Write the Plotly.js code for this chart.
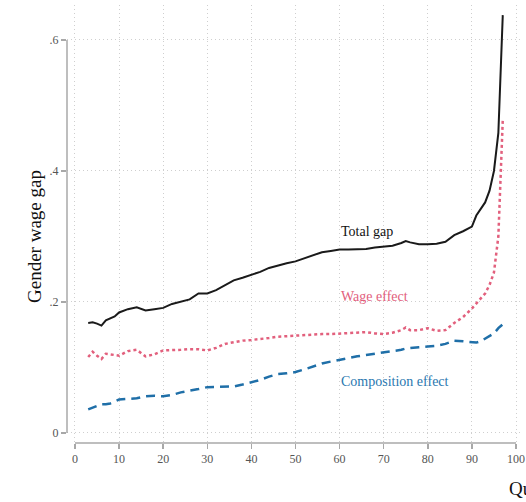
<!DOCTYPE html>
<html>
<head>
<meta charset="utf-8">
<script src="https://cdn.plot.ly/plotly-3.0.1.min.js"></script>
<style>html,body{margin:0;padding:0;background:#fff;}#chart{width:526px;height:502px;}</style>
</head>
<body>
<div id="chart"></div>
<script>
const quantiles = [3,4,5,6,7,8,9,10,12,14,16,18,20,22,24,26,28,30,32,34,36,38,40,42,44,46,48,50,52,54,56,58,60,62,64,66,68,70,72,74,75,76,78,80,82,84,86,88,90,91,92,93,94,95,96,97];
const totalGap = [0.168,0.169,0.167,0.164,0.172,0.175,0.178,0.184,0.189,0.192,0.187,0.189,0.191,0.197,0.201,0.204,0.213,0.213,0.218,0.226,0.233,0.237,0.241,0.246,0.252,0.256,0.259,0.262,0.267,0.272,0.276,0.278,0.280,0.280,0.280,0.281,0.283,0.285,0.286,0.290,0.293,0.291,0.288,0.288,0.289,0.292,0.302,0.308,0.315,0.332,0.343,0.352,0.370,0.400,0.458,0.638];
const wageEffect = [0.116,0.124,0.118,0.113,0.121,0.120,0.118,0.118,0.125,0.127,0.117,0.120,0.126,0.126,0.127,0.128,0.128,0.126,0.130,0.136,0.139,0.141,0.142,0.143,0.145,0.147,0.148,0.148,0.149,0.151,0.151,0.151,0.152,0.153,0.154,0.154,0.152,0.151,0.153,0.157,0.161,0.157,0.157,0.160,0.156,0.157,0.168,0.177,0.190,0.198,0.205,0.213,0.226,0.245,0.300,0.478];
const compositionEffect = [0.036,0.039,0.042,0.044,0.044,0.045,0.048,0.051,0.052,0.053,0.056,0.057,0.056,0.058,0.062,0.064,0.067,0.070,0.070,0.070,0.071,0.074,0.077,0.081,0.086,0.090,0.091,0.093,0.097,0.102,0.106,0.109,0.112,0.115,0.117,0.119,0.121,0.123,0.124,0.127,0.129,0.130,0.131,0.132,0.133,0.136,0.141,0.140,0.138,0.138,0.140,0.144,0.149,0.152,0.160,0.166];
const xTicks = [0,10,20,30,40,50,60,70,80,90,100];
const yTicks = [0,0.2,0.4,0.6];
const yTickLabels = ["0",".2",".4",".6"];
const seriesLabels = ["Total gap","Wage effect","Composition effect"];
const labelPos = {x:[66.2,68,72.6], y:[0.307,0.208,0.078]};

const serif = "'Liberation Serif', serif";
const colors = ["#1a1a1a","#e2607d","#1f6fa8"];

const traces = [
  {x: quantiles, y: totalGap, mode:'lines', line:{color:colors[0], width:2}, name: seriesLabels[0]},
  {x: quantiles, y: wageEffect, mode:'lines', line:{color:colors[1], width:2.5, dash:'dot'}, name: seriesLabels[1]},
  {x: quantiles, y: compositionEffect, mode:'lines', line:{color:colors[2], width:2.5, dash:'9px,6px'}, name: seriesLabels[2]}
];

const annotations = seriesLabels.map((t,i)=>({
  text:t, x:labelPos.x[i], y:labelPos.y[i], xref:'x', yref:'y', showarrow:false,
  font:{family:serif, size:14, color: i===2 ? '#2a78b0' : (i===1 ? '#e2607d' : '#111')}
}));
annotations.push({text:'Gender wage gap', xref:'paper', yref:'y', x:0, y:0.3, xshift:-45, textangle:-90,
  showarrow:false, font:{family:serif, size:19, color:'#111'}});
annotations.push({text:'Quantile', xref:'paper', yref:'paper', x:0.967, y:-0.103, xanchor:'left', yanchor:'middle',
  showarrow:false, font:{family:serif, size:19, color:'#111'}});

const shapes = [
  {type:'line', xref:'x', yref:'paper', x0:xTicks[0], x1:xTicks[xTicks.length-1], y0:0, y1:0, line:{color:'#a8a8a8', width:1.5}},
  {type:'line', xref:'paper', yref:'y', x0:0, x1:0, y0:yTicks[0], y1:yTicks[yTicks.length-1], line:{color:'#a8a8a8', width:1.5}}
];

const layout = {
  width:526, height:502,
  margin:{l:67, r:4, t:5, b:59},
  paper_bgcolor:'#fff', plot_bgcolor:'#fff',
  showlegend:false,
  font:{family:serif},
  xaxis:{range:[-1.81,101.36], tickvals:xTicks, ticktext:xTicks.map(String), showline:false, zeroline:false,
    showgrid:true, gridcolor:'#cfcfcf', griddash:'1px,3px', gridwidth:1,
    ticks:'outside', ticklen:5, tickcolor:'#a8a8a8', tickwidth:1.5,
    tickfont:{family:serif, size:12, color:'#555'}},
  yaxis:{range:[-0.0153,0.6534], tickvals:yTicks, ticktext:yTickLabels, showline:false, zeroline:false,
    showgrid:true, gridcolor:'#cfcfcf', griddash:'1px,3px', gridwidth:1,
    ticks:'outside', ticklen:5, tickcolor:'#a8a8a8', tickwidth:1.5,
    tickfont:{family:serif, size:12, color:'#555'}},
  annotations: annotations,
  shapes: shapes
};

Plotly.newPlot('chart', traces, layout, {displayModeBar:false, staticPlot:true});
</script>
</body>
</html>
